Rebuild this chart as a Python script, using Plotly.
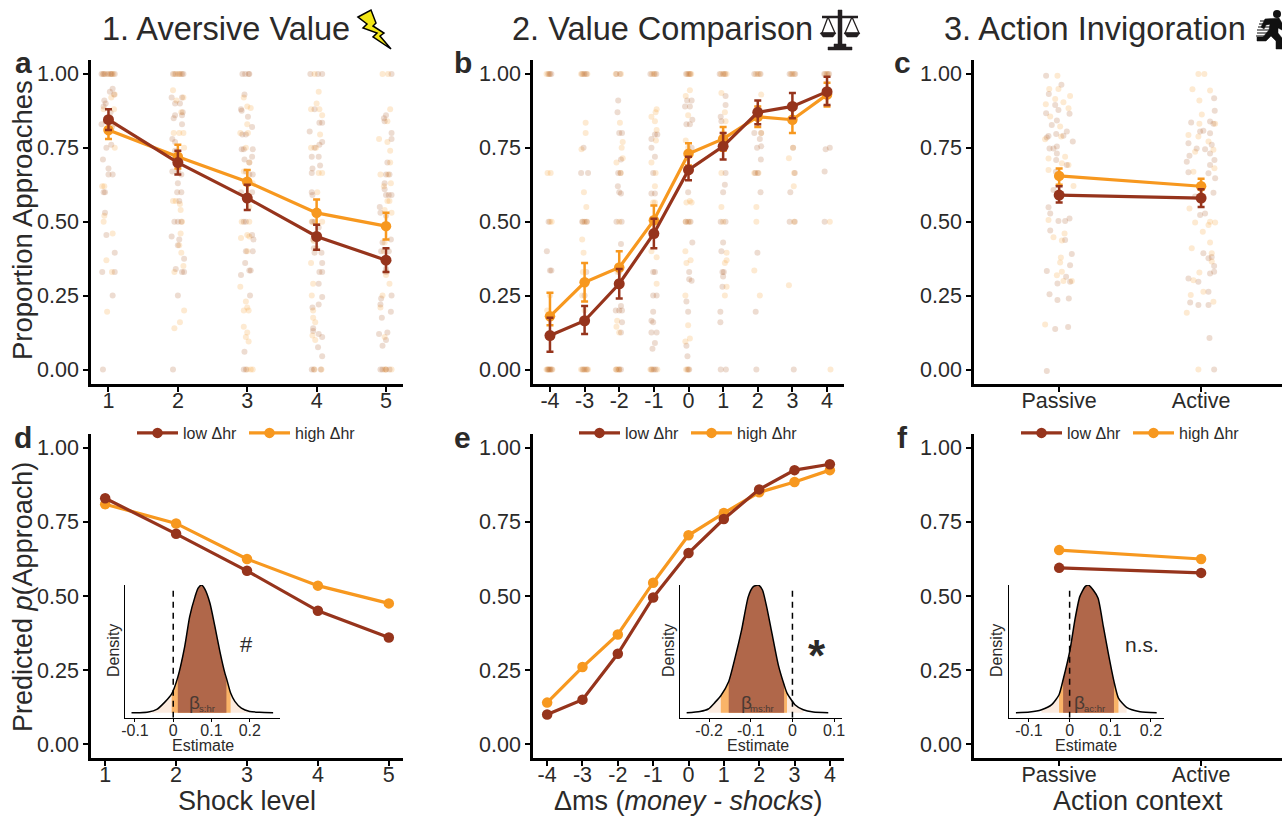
import plotly.graph_objects as go

W, H = 1282, 816
BROWN = "#96341c"
ORANGE = "#f7981f"
DOT_LOW = "rgba(170,90,40,0.21)"
DOT_HIGH = "rgba(247,152,31,0.2)"
INK = "#2b2a29"

SHOCK = [1, 2, 3, 4, 5]
DMS = [-4, -3, -2, -1, 0, 1, 2, 3, 4]
DMS_LABELS = ["-4", "-3", "-2", "-1", "0", "1", "2", "3", "4"]
ACTION = [1, 2]
ACTION_LABELS = ["Passive", "Active"]
Y_TICKS = [0, 0.25, 0.5, 0.75, 1]
SERIES_NAMES = ["low Δhr", "high Δhr"]

# Panel a: means and error-bar ends
A_LOW = [0.845, 0.70, 0.58, 0.45, 0.37]
A_LOW_HI = [0.88, 0.74, 0.625, 0.49, 0.41]
A_LOW_LO = [0.81, 0.66, 0.54, 0.405, 0.33]
A_HIGH = [0.81, 0.72, 0.635, 0.53, 0.485]
A_HIGH_HI = [0.84, 0.76, 0.675, 0.575, 0.53]
A_HIGH_LO = [0.78, 0.68, 0.59, 0.49, 0.44]
# Panel b
B_LOW = [0.115, 0.165, 0.29, 0.46, 0.675, 0.755, 0.87, 0.89, 0.94]
B_LOW_HI = [0.175, 0.215, 0.34, 0.51, 0.72, 0.80, 0.91, 0.935, 0.99]
B_LOW_LO = [0.06, 0.12, 0.24, 0.41, 0.64, 0.71, 0.83, 0.85, 0.895]
B_HIGH = [0.18, 0.295, 0.345, 0.505, 0.73, 0.78, 0.855, 0.845, 0.93]
B_HIGH_HI = [0.26, 0.36, 0.40, 0.555, 0.765, 0.82, 0.89, 0.89, 0.97]
B_HIGH_LO = [0.15, 0.23, 0.30, 0.46, 0.69, 0.74, 0.82, 0.80, 0.89]
# Panel c
C_LOW = [0.59, 0.58]
C_LOW_HI = [0.62, 0.61]
C_LOW_LO = [0.565, 0.55]
C_HIGH = [0.655, 0.62]
C_HIGH_HI = [0.68, 0.645]
C_HIGH_LO = [0.625, 0.59]
# Panels d, e, f
D_LOW = [0.83, 0.71, 0.585, 0.45, 0.36]
D_HIGH = [0.81, 0.745, 0.625, 0.535, 0.475]
E_LOW = [0.10, 0.15, 0.305, 0.495, 0.645, 0.76, 0.86, 0.925, 0.945]
E_HIGH = [0.14, 0.26, 0.37, 0.545, 0.705, 0.78, 0.85, 0.885, 0.925]
F_LOW = [0.595, 0.578]
F_HIGH = [0.655, 0.625]

# Participant dots (jittered x, proportion)
A_DOTS_LOW = [(0.90,1),(0.95,1),(1.0,1),(1.05,1),(1.09,1),(0.93,1),(1.03,1),(1.06,.95),(1.02,.94),(0.94,.91),(0.96,.90),(1.08,.93),(0.93,.89),(1.03,.87),(0.96,.84),(0.90,.83),(1.05,.82),(1.04,.76),(0.97,.75),(0.92,.71),(1.0,.68),(1.0,.66),(1.06,.66),(0.93,.60),(0.95,.60),(0.95,.53),(0.97,.455),(1.09,.395),(0.91,.33),(1.09,.33),(1.06,.25),(0.92,0),
 (1.93,1),(1.97,1),(2.02,1),(2.06,1),(2.08,1),(1.91,.92),(2.06,.92),(1.96,.90),(2.03,.90),(2.07,.87),(1.96,.86),(1.94,.85),(2.06,.86),(2.06,.83),(1.92,.78),(1.96,.77),(1.96,.74),(2.0,.67),(1.92,.67),(2.05,.66),(2.0,.63),(2.05,.60),(1.99,.60),(2.02,.57),(1.95,.50),(2.0,.50),(2.05,.50),(1.91,.45),(2.02,.44),(2.0,.42),(2.09,.375),(1.97,.34),(2.06,.33),(2.09,.33),(2.0,.25),(1.93,0),
 (2.93,1),(2.97,1),(3.02,1),(3.03,1),(2.96,.93),(2.91,.88),(2.92,.875),(3.01,.855),(3.07,.82),(2.93,.795),(2.98,.795),(2.92,.745),(2.95,.745),(3.08,.745),(3.07,.72),(2.96,.71),(3.03,.70),(2.98,.67),(3.03,.66),(3.08,.66),(2.91,.60),(3.07,.60),(2.95,.50),(2.98,.50),(3.07,.455),(3.09,.44),(2.98,.40),(3.08,.40),(2.97,.36),(3.03,.335),(3.05,.335),(2.91,.32),(3.04,.25),(2.96,.06),(2.95,0),(2.98,0),
 (3.91,1),(4.02,1),(4.08,1),(3.9,.805),(3.97,.88),(4.04,.835),(4.08,.835),(4.08,.77),(4.04,.76),(3.93,.72),(3.97,.75),(4.03,.72),(4.05,.69),(3.94,.68),(3.93,.665),(3.93,.60),(3.94,.59),(3.94,.50),(3.97,.50),(4.03,.48),(3.95,.44),(3.96,.41),(3.97,.395),(4.07,.395),(4.08,.36),(4.04,.33),(4.08,.33),(4.03,.29),(4.08,.245),(4.03,.22),(3.94,.21),(3.95,.14),(3.95,.13),(4.03,.12),(4.08,.11),(4.02,.075),(4.08,.045),(3.93,0),(3.96,0),(4.06,0),
 (5.08,1),(4.97,.85),(5.0,.86),(4.98,.84),(5.08,.80),(5.08,.78),(5.02,.70),(5.0,.66),(5.05,.66),(4.98,.63),(4.98,.61),(5.0,.59),(5.08,.59),(5.04,.59),(4.91,.55),(5.0,.52),(4.92,.53),(4.95,.43),(5.07,.44),(4.93,.40),(5.04,.40),(5.0,.34),(5.0,.33),(5.08,.25),(4.93,.24),(4.92,.22),(4.94,.175),(5.07,.195),(4.9,.12),(5.02,.125),(5.0,.10),(4.95,.08),(4.92,0),(4.95,0),(5.0,0),(5.05,0)]
A_DOTS_HIGH = [(0.92,1),(0.98,1),(1.04,1),(1.07,1),(1.09,.93),(1.04,.92),(0.93,.88),(1.08,.88),(1.09,.83),(1.09,.75),(1.0,.80),(0.94,.62),(0.91,.62),(0.93,.50),(0.94,.52),(1.06,.46),(0.97,.37),(1.05,.33),(0.98,.195),
 (1.95,1),(2.0,1),(2.04,1),(1.93,.945),(1.98,.91),(2.08,.92),(2.05,.87),(2.02,.80),(1.94,.80),(2.08,.80),(2.0,.72),(2.09,.75),(1.93,.57),(1.97,.57),(2.03,.56),(2.04,.54),(2.06,.50),(2.04,.46),(2.02,.42),(2.05,.395),(2.08,.35),(1.95,.33),(2.09,.20),(2.03,.16),(1.95,.14),
 (2.95,.92),(3.0,.89),(3.05,.885),(3.0,.83),(2.9,.80),(3.01,.80),(2.98,.75),(3.03,.70),(2.95,.67),(2.98,.64),(3.08,.63),(3.03,.55),(2.92,.50),(3.03,.50),(2.91,.445),(3.0,.455),(3.03,.45),(3.0,.40),(2.9,.28),(2.98,.23),(3.0,.21),(2.95,.2),(3.02,.2),(2.95,.145),(3.0,.125),(2.98,.11),(3.02,.095),(3.0,0),(3.05,0),(3.08,0),
 (3.97,1),(4.03,.94),(4.0,.90),(3.92,.88),(4.08,.86),(4.04,.88),(4.05,.795),(3.92,.75),(3.99,.75),(4.08,.665),(4.03,.665),(4.01,.60),(3.93,.50),(4.08,.50),(3.96,.435),(4.0,.41),(3.92,.36),(3.95,.29),(3.93,.25),(3.95,.20),(3.95,.175),(3.98,.16),(3.94,.115),(3.98,.10),(3.97,0),(4.07,0),
 (4.95,1),(5.03,1),(5.06,.88),(5.02,.84),(4.9,.78),(5.02,.77),(5.06,.74),(5.06,.70),(4.92,.66),(5.03,.66),(5.07,.63),(4.97,.62),(5.02,.57),(5.05,.57),(4.98,.54),(5.08,.53),(4.98,.43),(4.97,.40),(5.0,.32),(5.05,.29),(4.95,.25),(4.92,.21),(4.98,.11),(4.98,0),(5.08,0),(5.0,0)]
B_DOTS_LOW = [(-4.05,1),(-4.0,1),(-3.96,1),(-4.07,0),(-4.03,0),(-3.99,0),(-3.95,0),(-4.09,.40),(-4.0,.335),(-3.96,.335),(-4.04,.5),
 (-3.07,1),(-3.0,1),(-2.95,1),(-3.06,0),(-3.0,0),(-2.93,0),(-3.1,.665),(-2.9,.665),(-3.03,.75),(-3.07,.5),(-3.0,.5),(-2.93,.5),(-2.95,.33),(-3.0,.25),(-3.0,.17),
 (-2.08,1),(-1.98,1),(-2.08,0),(-2.0,0),(-1.95,0),(-2.03,.91),(-2.05,.87),(-2.0,.80),(-1.92,.80),(-1.95,.71),(-2.03,.665),(-1.96,.665),(-2.04,.62),(-2.0,.60),(-1.95,.595),(-2.08,.50),(-1.93,.50),(-1.95,.425),(-2.0,.33),(-1.95,.215),(-2.1,.2),(-2.0,.2),(-1.92,.2),(-1.92,.16),(-1.95,.125),
 (-1.1,1),(-1.0,1),(-0.93,1),(-1.07,0),(-1.0,0),(-0.95,0),(-0.97,.795),(-0.9,.795),(-1.07,.78),(-1.07,.75),(-0.97,.72),(-1.02,.665),(-1.07,.595),(-0.97,.595),(-1.02,.33),(-0.97,.33),(-1.02,.25),(-0.92,.25),(-1.02,.195),(-1.07,.165),(-1.02,.16),(-1.07,.125),(-0.92,.125),(-0.97,.09),(-1.04,.07),
 (-.07,1),(0,1),(.05,1),(-.03,0),(.02,0),(.09,.91),(-.04,.91),(-.1,.89),(.04,.89),(.11,.845),(-.06,.83),(.04,.83),(.09,.75),(-.01,.60),(-.08,.50),(-.01,.50),(.06,.50),(.11,.43),(.02,.33),(.02,.305),(.09,.30),(-.06,.23),(-.01,.195),(-.06,.08),(-.03,.045),
 (.9,1),(1.0,1),(1.06,1),(1.07,.925),(1.07,.895),(.93,.855),(.95,.84),(1.07,.665),(1.05,.625),(1.0,.60),(.93,.50),(1.07,.50),(1.0,.43),(.95,.40),(1.02,.33),(.98,.33),(1.0,.315),(.98,.28),(.92,.195),(.92,.16),(.93,0),(1.08,0),
 (1.9,1),(2.0,1),(2.08,1),(1.9,.80),(2.1,.80),(2.06,.78),(1.98,.75),(2.1,.755),(2.09,.71),(1.93,.665),(2.0,.665),(2.08,.60),(1.99,.395),(1.94,.195),(1.96,0),
 (2.92,1),(3.0,1),(3.08,1),(3.02,.75),(3.07,.665),(2.94,.60),(2.92,.50),(3.07,.50),(3.04,0),
 (3.92,1),(4.0,1),(4.06,1),(3.96,.745),(4.08,.75),(3.93,.67),(3.93,.50)]
B_DOTS_HIGH = [(-4.1,1),(-4.02,1),(-4.1,0),(-4.05,0),(-4.0,0),(-3.93,0),(-4.07,.665),(-3.98,.665),(-4.0,.50),(-3.95,.50),(-4.08,.2),(-4.0,.25),
 (-3.1,1),(-3.03,1),(-2.92,1),(-3.1,0),(-3.03,0),(-2.96,0),(-2.9,0),(-2.97,.835),(-2.97,.80),(-3.09,.745),(-3.02,.60),(-2.95,.55),(-3.07,.44),(-3.03,.395),(-3.05,.5),(-2.95,.5),(-3.05,.33),(-3.07,.25),(-3.0,.2),
 (-2.1,1),(-1.95,1),(-2.1,0),(-2.04,0),(-2.0,0),(-1.98,.835),(-1.9,.77),(-1.93,.75),(-1.9,.715),(-2.08,.70),(-1.96,.665),(-2.0,.5),(-2.05,.33),(-2.06,.165),(-2.08,.145),(-2.0,.125),
 (-1.05,1),(-0.97,1),(-1.1,0),(-1.04,0),(-0.9,0),(-.92,.88),(-.95,.87),(-1.07,.855),(-.97,.84),(-.92,.81),(-.94,.775),(-1.07,.70),(-.95,.665),(-.97,.62),(-1.02,.565),(-.97,.565),(-1.07,.40),(-.92,.38),(-.92,.29),
 (-.04,1),(.03,1),(.08,1),(-.07,0),(0,0),(.04,.945),(-.08,.925),(-.01,.86),(-.08,.775),(-.01,.75),(.04,.57),(-.06,.565),(.09,.565),(-.08,.50),(.03,.50),(-.09,.40),(.06,.37),(-.06,.36),(-.09,.25),(-.01,.15),(.04,.105),(-.09,.095),
 (.94,1),(1.03,1),(1.1,1),(.95,.935),(1.05,.87),(1.07,.84),(1.0,.80),(.95,.665),(.95,.55),(1.0,.50),(1.1,.395),(1.1,.37),(1.05,.36),(1.1,.28),(1.05,.25),
 (1.95,1),(2.05,1),(2.1,.93),(2.1,.80),(1.9,.665),(2.02,.665),(1.96,.55),(1.96,.50),(1.9,.335),(2.06,.25),
 (2.96,1),(3.05,1),(3.02,.75),(3.05,.665),(2.9,.715),(3.04,.62),(3.05,.50),(2.9,.285),
 (3.95,1),(4.03,1),(4.08,.5),(4.1,0)]
C_DOTS_LOW = [(.908,.994),(1.016,.963),(.927,.932),(.972,.895),(.995,.878),(1.073,.865),(.908,.867),(.984,.842),(.948,.827),(1.054,.805),(1.03,.791),(.979,.797),(.925,.79),(.913,.785),(1.096,.771),(.984,.754),(.932,.748),(.96,.748),(.984,.731),(.979,.709),(1.054,.692),(.977,.669),(.99,.596),(.96,.607),(.925,.549),(.937,.528),(.995,.502),(1.042,.502),(1.073,.511),(.937,.47),(1.042,.438),(1.089,.391),(1.077,.353),(.913,.333),(1.049,.314),(1.077,.297),(.988,.291),(.932,.255),(.988,.235),(1.068,.24),(1.063,.144),(.972,.137),(.913,-.005),
 (2.092,.918),(2.096,.875),(1.93,.836),(2.063,.839),(2.087,.831),(1.993,.805),(2.016,.808),(2.063,.799),(1.911,.765),(1.969,.748),(2.028,.745),(2.075,.76),(2.063,.731),(1.918,.723),(2.094,.709),(1.899,.703),(2.063,.692),(1.911,.667),(2.052,.664),(2.099,.647),(1.958,.585),(2.087,.598),(2.028,.528),(1.993,.523),(2.016,.393),(2.075,.381),(2.052,.376),(2.092,.35),(2.092,.331),(2.063,.325),(1.911,.308),(1.981,.297),(2.052,.218),(1.923,.227),(1.981,.218),(2.052,.263),(2.059,.107),(2.092,0)]
C_DOTS_HIGH = [(.988,.994),(.93,.949),(.995,.949),(.906,.897),(.972,.915),(1.03,.904),(1.077,.925),(1.066,.884),(.937,.856),(1.007,.822),(.901,.779),(1.014,.788),(.925,.714),(1.042,.72),(1.066,.692),(1.019,.698),(.925,.675),(1.101,.621),(.925,.506),(1.038,.46),(.96,.447),(1.019,.436),(1.012,.379),(1.007,.362),(1.019,.331),(.984,.319),(1.03,.299),(1.089,.299),(.901,.152),
 (1.981,1),(2.023,1),(1.939,.948),(2.063,.944),(1.988,.91),(2.005,.863),(1.988,.831),(2.099,.831),(1.911,.793),(1.981,.788),(2.052,.771),(2.087,.743),(1.958,.737),(2.094,.681),(1.946,.669),(1.918,.545),(1.958,.497),(2.063,.5),(2.099,.497),(2.012,.466),(2.052,.489),(2.063,.43),(1.934,.41),(2.075,.393),(2.075,.365),(1.988,.328),(1.946,.302),(2.016,.263),(1.927,.252),(2.087,.229),(1.899,.192),(1.981,0)]

# Posterior densities (estimate, relative density)
D_POST = [(-.109,0),(-.087,0),(-.065,.005),(-.043,.026),(-.022,.083),(-.004,.148),(.012,.279),(.03,.518),(.043,.753),(.057,.909),(.065,.975),(.074,1),(.083,.965),(.096,.857),(.109,.674),(.122,.479),(.135,.31),(.139,.271),(.15,.154),(.161,.089),(.178,.036),(.2,.01),(.226,.003),(.261,0)]
E_POST = [(-.254,0),(-.222,.01),(-.202,.029),(-.186,.081),(-.172,.133),(-.153,.245),(-.138,.427),(-.122,.648),(-.106,.909),(-.094,.987),(-.082,1),(-.072,.961),(-.062,.831),(-.05,.635),(-.034,.375),(-.02,.219),(-.013,.154),(.006,.063),(.026,.023),(.05,.005),(.086,0)]
F_POST = [(-.132,0),(-.098,.005),(-.069,.023),(-.044,.063),(-.026,.141),(-.016,.258),(.001,.492),(.013,.727),(.025,.909),(.038,.987),(.046,1),(.058,.961),(.07,.896),(.083,.674),(.095,.466),(.109,.245),(.12,.115),(.14,.042),(.173,.008),(.214,0)]
D_BANDS = [(-.065, .2), (-.004, .15), (.012, .139)]
E_BANDS = [(-.202, .026), (-.172, -.013), (-.153, -.02)]
F_BANDS = [(-.069, .14), (-.026, .12), (-.016, .109)]
D_INSET_TICKS, D_INSET_LABELS = [-.1, 0, .1, .2], ["-0.1", "0", "0.1", "0.2"]
E_INSET_TICKS, E_INSET_LABELS = [-.2, -.1, 0, .1], ["-0.2", "-0.1", "0", "0.1"]
F_INSET_TICKS, F_INSET_LABELS = [-.1, 0, .1, .2], ["-0.1", "0", "0.1", "0.2"]


def px(x):
    return x / W


def py(y):
    return 1 - y / H


fig = go.Figure()
FONT = "Liberation Sans, Arial, sans-serif"
layout = dict(
    width=W, height=H, autosize=False, margin=dict(l=0, r=0, t=0, b=0, pad=0, autoexpand=False),
    paper_bgcolor="white", plot_bgcolor="rgba(0,0,0,0)",
    font=dict(family=FONT, color=INK), showlegend=True,
)


def axes(i, left, right, top, bottom, xrange, yrange, xticks, xlabels, yticks, ylabels,
         tick=21.5, line=2.5, ticklen=5, standoff=-10):
    suffix = "" if i == 1 else str(i)
    common = dict(showgrid=False, zeroline=False, showline=True, linecolor="black", linewidth=line,
                  ticks="outside", ticklen=ticklen, tickwidth=2 if line > 2 else 1, tickcolor="black",
                  tickfont=dict(size=tick, color=INK, family=FONT))
    layout["xaxis" + suffix] = dict(common, domain=[px(left), px(right)], range=xrange, tickmode="array",
                                    tickvals=xticks, ticktext=xlabels, anchor="y" + suffix, ticklabelstandoff=standoff)
    layout["yaxis" + suffix] = dict(common, domain=[py(bottom), py(top)], range=yrange, tickmode="array",
                                    tickvals=yticks, ticktext=ylabels, anchor="x" + suffix)
    return "x" + suffix, "y" + suffix


YL = ["0.00", "0.25", "0.50", "0.75", "1.00"]
XS = [str(v) for v in SHOCK]
top_r = [-0.049, 1.047]
bot_r = [-0.048, 1.047]
A = axes(1, 91, 403, 60, 384, [0.748, 5.245], top_r, SHOCK, XS, Y_TICKS, YL)
B = axes(2, 533, 844, 60, 384, [-4.49, 4.49], top_r, DMS, DMS_LABELS, Y_TICKS, YL)
C = axes(3, 974, 1282, 60, 384, [0.4, 2.57], top_r, ACTION, ACTION_LABELS, Y_TICKS, YL)
D = axes(4, 91, 403, 434, 758.3, [0.8, 5.2], bot_r, SHOCK, XS, Y_TICKS, YL)
E = axes(5, 533, 844, 434, 758.3, [-4.4, 4.4], bot_r, DMS, DMS_LABELS, Y_TICKS, YL)
F = axes(6, 974, 1282, 434, 758.3, [0.4, 2.57], bot_r, ACTION, ACTION_LABELS, Y_TICKS, YL)
I1 = axes(7, 125, 280, 585, 717.7, [-.126, .279], [-.039, 1], D_INSET_TICKS, D_INSET_LABELS, [], [], tick=16, line=1.3, ticklen=3, standoff=-5)
I2 = axes(8, 680, 842, 585, 717.7, [-.27, .119], [-.039, 1], E_INSET_TICKS, E_INSET_LABELS, [], [], tick=16, line=1.3, ticklen=3, standoff=-5)
I3 = axes(9, 1009, 1164, 585, 717.7, [-.149, .232], [-.039, 1], F_INSET_TICKS, F_INSET_LABELS, [], [], tick=16, line=1.3, ticklen=3, standoff=-5)


def dots(ax, pts, color):
    fig.add_trace(go.Scatter(x=[p[0] for p in pts], y=[p[1] for p in pts], mode="markers", xaxis=ax[0], yaxis=ax[1],
                             marker=dict(size=6, color=color, line=dict(width=0)), showlegend=False, hoverinfo="skip"))


def means(ax, xs, vals, hi, lo, color, size):
    fig.add_trace(go.Scatter(
        x=xs, y=vals, mode="lines+markers", xaxis=ax[0], yaxis=ax[1], showlegend=False,
        line=dict(color=color, width=3.2), marker=dict(size=size, color=color),
        error_y=dict(type="data", symmetric=False, array=[h - v for h, v in zip(hi, vals)],
                     arrayminus=[v - l for v, l in zip(vals, lo)], color=color, thickness=2.5, width=3.5)))


def lines(ax, xs, vals, color, name, legend):
    fig.add_trace(go.Scatter(x=xs, y=vals, mode="lines+markers", xaxis=ax[0], yaxis=ax[1], name=name, legend=legend,
                             line=dict(color=color, width=3.2), marker=dict(size=10.5, color=color), showlegend=True))


for ax, xs, dl, dh, hi_set, lo_set in [
    (A, SHOCK, A_DOTS_LOW, A_DOTS_HIGH, (A_HIGH, A_HIGH_HI, A_HIGH_LO), (A_LOW, A_LOW_HI, A_LOW_LO)),
    (B, DMS, B_DOTS_LOW, B_DOTS_HIGH, (B_HIGH, B_HIGH_HI, B_HIGH_LO), (B_LOW, B_LOW_HI, B_LOW_LO)),
    (C, ACTION, C_DOTS_LOW, C_DOTS_HIGH, (C_HIGH, C_HIGH_HI, C_HIGH_LO), (C_LOW, C_LOW_HI, C_LOW_LO)),
]:
    dots(ax, dh, DOT_HIGH)
    dots(ax, dl, DOT_LOW)
    means(ax, xs, *hi_set, ORANGE, 10.5)
    means(ax, xs, *lo_set, BROWN, 11)

# legend entries are added low first while the high series is drawn under low, so use traceorder
for ax, xs, low, high, leg in [(D, SHOCK, D_LOW, D_HIGH, "legend"), (E, DMS, E_LOW, E_HIGH, "legend2"), (F, ACTION, F_LOW, F_HIGH, "legend3")]:
    lines(ax, xs, high, ORANGE, SERIES_NAMES[1], leg)
    lines(ax, xs, low, BROWN, SERIES_NAMES[0], leg)

for ax, post, bands in [(I1, D_POST, D_BANDS), (I2, E_POST, E_BANDS), (I3, F_POST, F_BANDS)]:
    for (lo, hi), col in zip(bands, ["#fcebdf", "#fab468", "#b0674a"]):
        seg = [p for p in post if lo <= p[0] <= hi]
        fig.add_trace(go.Scatter(x=[p[0] for p in seg], y=[p[1] for p in seg], mode="lines", fill="tozeroy", cliponaxis=False,
                                 fillcolor=col, line=dict(width=0, shape="spline", smoothing=0.6), xaxis=ax[0], yaxis=ax[1], showlegend=False, hoverinfo="skip"))
    fig.add_trace(go.Scatter(x=[p[0] for p in post], y=[p[1] for p in post], mode="lines", cliponaxis=False, line=dict(color="black", width=1.5, shape="spline", smoothing=0.6),
                             xaxis=ax[0], yaxis=ax[1], showlegend=False, hoverinfo="skip"))
    fig.add_trace(go.Scatter(x=[0, 0], y=[-.039, .96], mode="lines", line=dict(color="black", width=1.5, dash="6px,5px"),
                             xaxis=ax[0], yaxis=ax[1], showlegend=False, hoverinfo="skip"))


def legend_at(left):
    return dict(orientation="h", x=px(left), y=py(416), xanchor="left", yanchor="top", traceorder="reversed",
                itemwidth=41, font=dict(size=16, color=INK, family=FONT), bgcolor="rgba(0,0,0,0)",
                entrywidth=56, entrywidthmode="pixels", itemclick=False, itemdoubleclick=False)


layout["legend"] = legend_at(132)
layout["legend2"] = legend_at(574)
layout["legend3"] = legend_at(1016)

ann = []


def text(x, y, s, size, rot=0, bold=False, color=INK):
    ann.append(dict(x=px(x), y=py(y), xref="paper", yref="paper", text=f"<b>{s}</b>" if bold else s, showarrow=False,
                    xanchor="center", yanchor="middle", textangle=rot, font=dict(size=size, color=color, family=FONT)))


text(226, 29, "1. Aversive Value", 32.5)
text(662, 29, "2. Value Comparison", 32.5)
text(1095, 29, "3. Action Invigoration", 32.5)
for s, x, y in [("a", 23, 63), ("b", 463, 63), ("c", 902, 63), ("d", 23, 437), ("e", 463, 437), ("f", 902, 437)]:
    text(x, y, s, 30, bold=True)
text(23, 220, "Proportion Approaches", 27.5, rot=-90)
text(23, 597, "Predicted <i>p</i>(Approach)", 27, rot=-90)
text(247, 801, "Shock level", 27)
text(689, 800.5, "Δms (<i>money - shocks</i>)", 27)
text(1138, 801, "Action context", 27)
for x, yc in [(113, 651), (668, 651), (996, 651)]:
    text(x, yc, "Density", 16, rot=-90)
for x in [203, 757.5, 1086]:
    text(x, 745.7, "Estimate", 16)
text(246, 644, "#", 22)
text(817, 655, "*", 44, bold=True)
text(1142, 644, "n.s.", 21)
for x, s, xs in [(194.5, "s:hr", 207.5), (746, "ms:hr", 762), (1079, "ac:hr", 1094)]:
    text(x, 702, "β", 19, color="#4a3a33")
    text(xs, 708.5, s, 9.5, color="#4a3a33")
layout["annotations"] = ann


def P(*pts):
    return "M " + " L ".join(f"{px(a):.5f},{py(b):.5f}" for a, b in pts)


shapes = []


def poly(pts, fill, line="black", w=1.5):
    shapes.append(dict(type="path", xref="paper", yref="paper", path=P(*pts) + " Z", fillcolor=fill,
                       line=dict(color=line, width=w)))


def stroke(pts, w, col=INK):
    shapes.append(dict(type="path", xref="paper", yref="paper", path=P(*pts), line=dict(color=col, width=w)))


# bolt icon
poly([(358, 17), (371, 10), (376, 23), (373, 26), (384, 33), (380, 36), (391, 49), (373, 37), (377, 33), (363, 28), (367, 24)], "#f2e616")
# scales icon
SC = "#231f20"
poly([(838, 10), (842, 10), (842, 44), (846, 44), (846, 47), (852, 47), (852, 50), (828, 50), (828, 47), (834, 47), (834, 44), (838, 44)], SC, SC, 0.5)
stroke([(822, 17), (858, 17)], 2.5, SC)
stroke([(828, 17), (822, 33), (821, 33), (835, 33), (828, 17)], 1.3, SC)
stroke([(852, 17), (845, 33), (859, 33), (852, 17)], 1.3, SC)
poly([(820, 33), (836, 33), (833, 37), (823, 37)], SC, SC, 0.5)
poly([(844, 33), (860, 33), (857, 37), (847, 37)], SC, SC, 0.5)
# runner icon
for yv, x0, x1 in [(21, 1260, 1270), (24, 1259, 1270), (27, 1258, 1270), (30, 1257, 1270), (33, 1257, 1268), (36, 1256, 1264)]:
    stroke([(x0, yv), (x1, yv)], 1.8, "#777")
shapes.append(dict(type="circle", xref="paper", yref="paper", x0=px(1273), x1=px(1281), y0=py(18), y1=py(10), fillcolor="#111", line=dict(width=0)))
poly([(1265, 19), (1279, 18), (1282, 23), (1282, 30), (1278, 28), (1278, 33), (1282, 38), (1282, 49), (1276, 49), (1276, 41), (1271, 36), (1266, 41), (1257, 41), (1257, 37), (1263, 37), (1269, 30), (1270, 24), (1266, 25), (1264, 29), (1261, 27)], "#111", "#111", 0.5)
layout["shapes"] = shapes

fig.update_layout(**layout)
fig.write_html("out.html", config={"displayModeBar": False},
               post_script="document.body.style.margin='0';window.dispatchEvent(new Event('resize'));")
